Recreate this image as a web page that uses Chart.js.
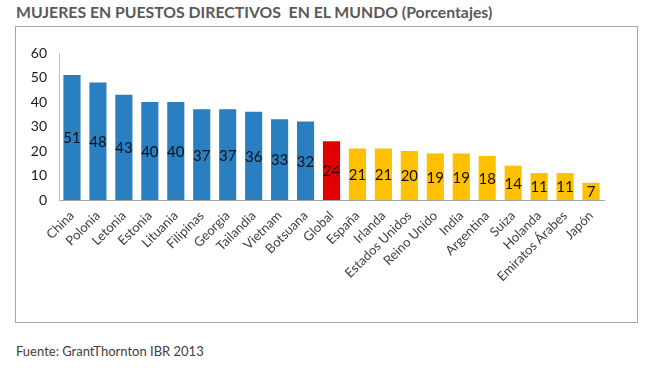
<!DOCTYPE html>
<html>
<head>
<meta charset="utf-8">
<script src="https://cdn.jsdelivr.net/npm/chart.js@4"></script>
<style>
  body { margin: 0; background: #fff; width: 650px; height: 368px; position: relative; overflow: hidden; }
  #titulo { position: absolute; left: 16px; top: 2px; font: bold 15.8px Lato, sans-serif; color: #595959; white-space: pre; }
  #caja { position: absolute; left: 15px; top: 26px; width: 621px; height: 295px; border: 1px solid #a6a6a6; }
  #fuente { position: absolute; left: 16px; top: 343px; font: 13px Lato, sans-serif; color: #404040; }
  canvas { position: absolute; left: 0; top: 0; }
</style>
</head>
<body>
<div id="titulo">MUJERES EN PUESTOS DIRECTIVOS  EN EL MUNDO (Porcentajes)</div>
<div id="caja"><canvas id="grafico" width="621" height="295"></canvas></div>
<div id="fuente">Fuente: GrantThornton IBR 2013</div>
<script>
const categorias = ['China', 'Polonia', 'Letonia', 'Estonia', 'Lituania', 'Filipinas', 'Georgia',
  'Tailandia', 'Vietnam', 'Botsuana', 'Global', 'España', 'Irlanda', 'Estados Unidos', 'Reino Unido',
  'India', 'Argentina', 'Suiza', 'Holanda', 'Emiratos Árabes', 'Japón'];
const valores = [51, 48, 43, 40, 40, 37, 37, 36, 33, 32, 24, 21, 21, 20, 19, 19, 18, 14, 11, 11, 7];
const ticksY = [0, 10, 20, 30, 40, 50, 60];

const AZUL = '#2a7fc1';
const ROJO = '#e00000';
const AMARILLO = '#ffc000';
const colores = categorias.map((c, i) => c === 'Global' ? ROJO : (i < 10 ? AZUL : AMARILLO));

// etiquetas de valor en el centro de cada barra
const etiquetasValor = {
  id: 'etiquetasValor',
  afterDatasetsDraw(chart) {
    const ctx = chart.ctx;
    const meta = chart.getDatasetMeta(0);
    ctx.save();
    ctx.font = '15px Lato, sans-serif';
    ctx.fillStyle = '#111';
    ctx.textAlign = 'center';
    ctx.textBaseline = 'middle';
    meta.data.forEach((el, i) => {
      ctx.fillText(valores[i], el.x, (el.y + el.base) / 2 + 1);
    });
    ctx.restore();
  }
};

new Chart(document.getElementById('grafico').getContext('2d'), {
  type: 'bar',
  data: {
    labels: categorias,
    datasets: [{
      data: valores,
      backgroundColor: colores,
      barPercentage: 0.66,
      categoryPercentage: 1
    }]
  },
  options: {
    responsive: false,
    animation: false,
    layout: { padding: { left: 0, right: 33, top: 26, bottom: 0 } },
    plugins: { legend: { display: false }, tooltip: { enabled: false } },
    scales: {
      x: {
        grid: { display: false, drawTicks: false },
        border: { color: '#a6a6a6' },
        ticks: {
          maxRotation: 45, minRotation: 45, autoSkip: false, padding: 8,
          color: '#404040', font: { family: 'Lato', size: 13 }
        },
        afterFit: s => { s.height = 122; }
      },
      y: {
        min: 0, max: 60,
        afterBuildTicks: s => { s.ticks = ticksY.map(v => ({ value: v })); },
        grid: { display: false, drawTicks: false },
        border: { color: '#bfbfbf' },
        ticks: { padding: 12, color: '#1a1a1a', font: { family: 'Lato', size: 14 } },
        afterFit: s => { s.width = 43; }
      }
    }
  },
  plugins: [etiquetasValor]
});
</script>
</body>
</html>
